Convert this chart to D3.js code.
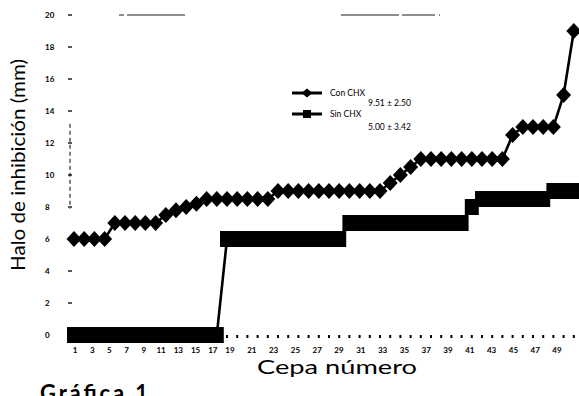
<!DOCTYPE html>
<html>
<head>
<meta charset="utf-8">
<script src="https://cdn.jsdelivr.net/npm/d3@7"></script>
<style>
  body { margin: 0; background: #fff; }
  svg { display: block; font-family: Lato, "Open Sans", sans-serif; }
</style>
</head>
<body>
<div id="chart"></div>
<script>
// halo values (mm), strains sorted ascending
const conCHX = [6, 6, 6, 6, 7, 7, 7, 7, 7, 7.5, 7.8, 8, 8.2,
  8.5, 8.5, 8.5, 8.5, 8.5, 8.5, 8.5,
  9, 9, 9, 9, 9, 9, 9, 9, 9, 9, 9,
  9.5, 10, 10.5,
  11, 11, 11, 11, 11, 11, 11, 11, 11,
  12.5, 13, 13, 13, 13, 15, 19];
const sinCHX = [0, 0, 0, 0, 0, 0, 0, 0, 0, 0, 0, 0, 0, 0, 0,
  6, 6, 6, 6, 6, 6, 6, 6, 6, 6, 6, 6,
  7, 7, 7, 7, 7, 7, 7, 7, 7, 7, 7, 7,
  8, 8.5, 8.5, 8.5, 8.5, 8.5, 8.5, 8.5, 9, 9, 9];
const xTickLabels = [1, 3, 5, 7, 9, 11, 13, 15, 17, 19, 21, 23, 25, 27, 29, 31, 33, 35, 37, 39, 41, 43, 45, 47, 49];
const yTicks = [0, 2, 4, 6, 8, 10, 12, 14, 16, 18, 20];
const legendItems = [
  {name: "Con CHX", stat: "9.51 ± 2.50"},
  {name: "Sin CHX", stat: "5.00 ± 3.42"}
];

const W = 579, H = 396;
const svg = d3.select("#chart").append("svg").attr("width", W).attr("height", H);

let x = d3.scaleLinear().domain([1, 50]).range([74, 573.8]);
let y = d3.scaleLinear().domain([0, 20]).range([335, 15]);
// the number row under the plot was typed by hand: tighter on the left
let xLab = d3.scaleLinear().domain([1, 19, 49]).range([75, 230, 557]);

// y ticks + labels
let yax = svg.append("g").classed("y-axis", true);
yax.selectAll("text").data(yTicks).join("text")
  .attr("x", 45).attr("y", d => y(d) + 3)
  .attr("font-size", 8).attr("font-weight", "bold")
  .text(d => d);
yax.selectAll("line").data(yTicks).join("line")
  .attr("x1", 68).attr("x2", 72)
  .attr("y1", d => y(d)).attr("y2", d => y(d))
  .attr("stroke", "#000").attr("stroke-width", 1.3);
// broken remains of the axis line
yax.append("line")
  .attr("x1", 70).attr("x2", 70).attr("y1", y(13.2)).attr("y2", y(7.9))
  .attr("stroke", "#000").attr("stroke-width", 1).attr("stroke-dasharray", "4,3");

// broken remains of the top border
svg.append("line").attr("x1", 119).attr("x2", 185).attr("y1", y(20)).attr("y2", y(20))
  .attr("stroke", "#000").attr("stroke-width", 0.9).attr("stroke-dasharray", "5,3,60,0");
svg.append("line").attr("x1", 341).attr("x2", 440).attr("y1", y(20)).attr("y2", y(20))
  .attr("stroke", "#000").attr("stroke-width", 0.9).attr("stroke-dasharray", "58,3,33,4,1,10");

// x ticks (small marks on the zero line)
svg.append("g").selectAll("rect").data(d3.range(1, 52)).join("rect")
  .attr("x", d => x(d) - 1).attr("y", y(0))
  .attr("width", 2).attr("height", 3).attr("fill", "#000");

svg.append("g").selectAll("text").data(xTickLabels).join("text")
  .attr("x", d => xLab(d)).attr("y", 353)
  .attr("text-anchor", "middle").attr("font-size", 8).attr("font-weight", "bold")
  .text(d => d);

// axis titles
svg.append("text")
  .attr("transform", "translate(25,165) rotate(-90)")
  .attr("text-anchor", "middle").attr("font-size", 19)
  .attr("textLength", 212).attr("lengthAdjust", "spacingAndGlyphs")
  .text("Halo de inhibición (mm)");
svg.append("text")
  .attr("x", 337).attr("y", 374)
  .attr("text-anchor", "middle").attr("font-size", 19)
  .attr("textLength", 160).attr("lengthAdjust", "spacingAndGlyphs")
  .text("Cepa número");
svg.append("text")
  .attr("x", 40).attr("y", 401)
  .attr("font-size", 22).attr("font-weight", "bold")
  .attr("textLength", 108).attr("lengthAdjust", "spacing")
  .text("Gráfica 1");

let line = d3.line().x((d, i) => x(i + 1)).y(d => y(d));
let diamond = (cx, cy, hw, hh) => `M${cx},${cy - hh}L${cx + hw},${cy}L${cx},${cy + hh}L${cx - hw},${cy}Z`;

// Sin CHX: squares
svg.append("path").datum(sinCHX).attr("d", line)
  .attr("fill", "none").attr("stroke", "#000").attr("stroke-width", 2.6);
svg.append("g").selectAll("rect").data(sinCHX).join("rect")
  .attr("x", (d, i) => x(i + 1) - 7).attr("y", d => y(d) - 8)
  .attr("width", 14).attr("height", 16).attr("fill", "#000");

// Con CHX: diamonds
svg.append("path").datum(conCHX).attr("d", line)
  .attr("fill", "none").attr("stroke", "#000").attr("stroke-width", 2.6);
svg.append("g").selectAll("path").data(conCHX).join("path")
  .attr("d", (d, i) => diamond(x(i + 1), y(d), 7.5, 8)).attr("fill", "#000");

// legend
let lg = svg.append("g").attr("font-size", 8.5);
legendItems.forEach((it, k) => {
  let ly = k === 0 ? 93 : 114;
  lg.append("line").attr("x1", 292).attr("x2", 322).attr("y1", ly).attr("y2", ly)
    .attr("stroke", "#000").attr("stroke-width", 3);
  if (k === 0) lg.append("path").attr("d", diamond(307, ly, 5.5, 4.5)).attr("fill", "#000");
  else lg.append("rect").attr("x", 303).attr("y", ly - 4).attr("width", 8).attr("height", 8).attr("fill", "#000");
  lg.append("text").attr("x", 330).attr("y", ly + 3).text(it.name);
  lg.append("text").attr("x", 368).attr("y", ly + (k === 0 ? 13 : 16)).text(it.stat);
});
</script>
</body>
</html>
